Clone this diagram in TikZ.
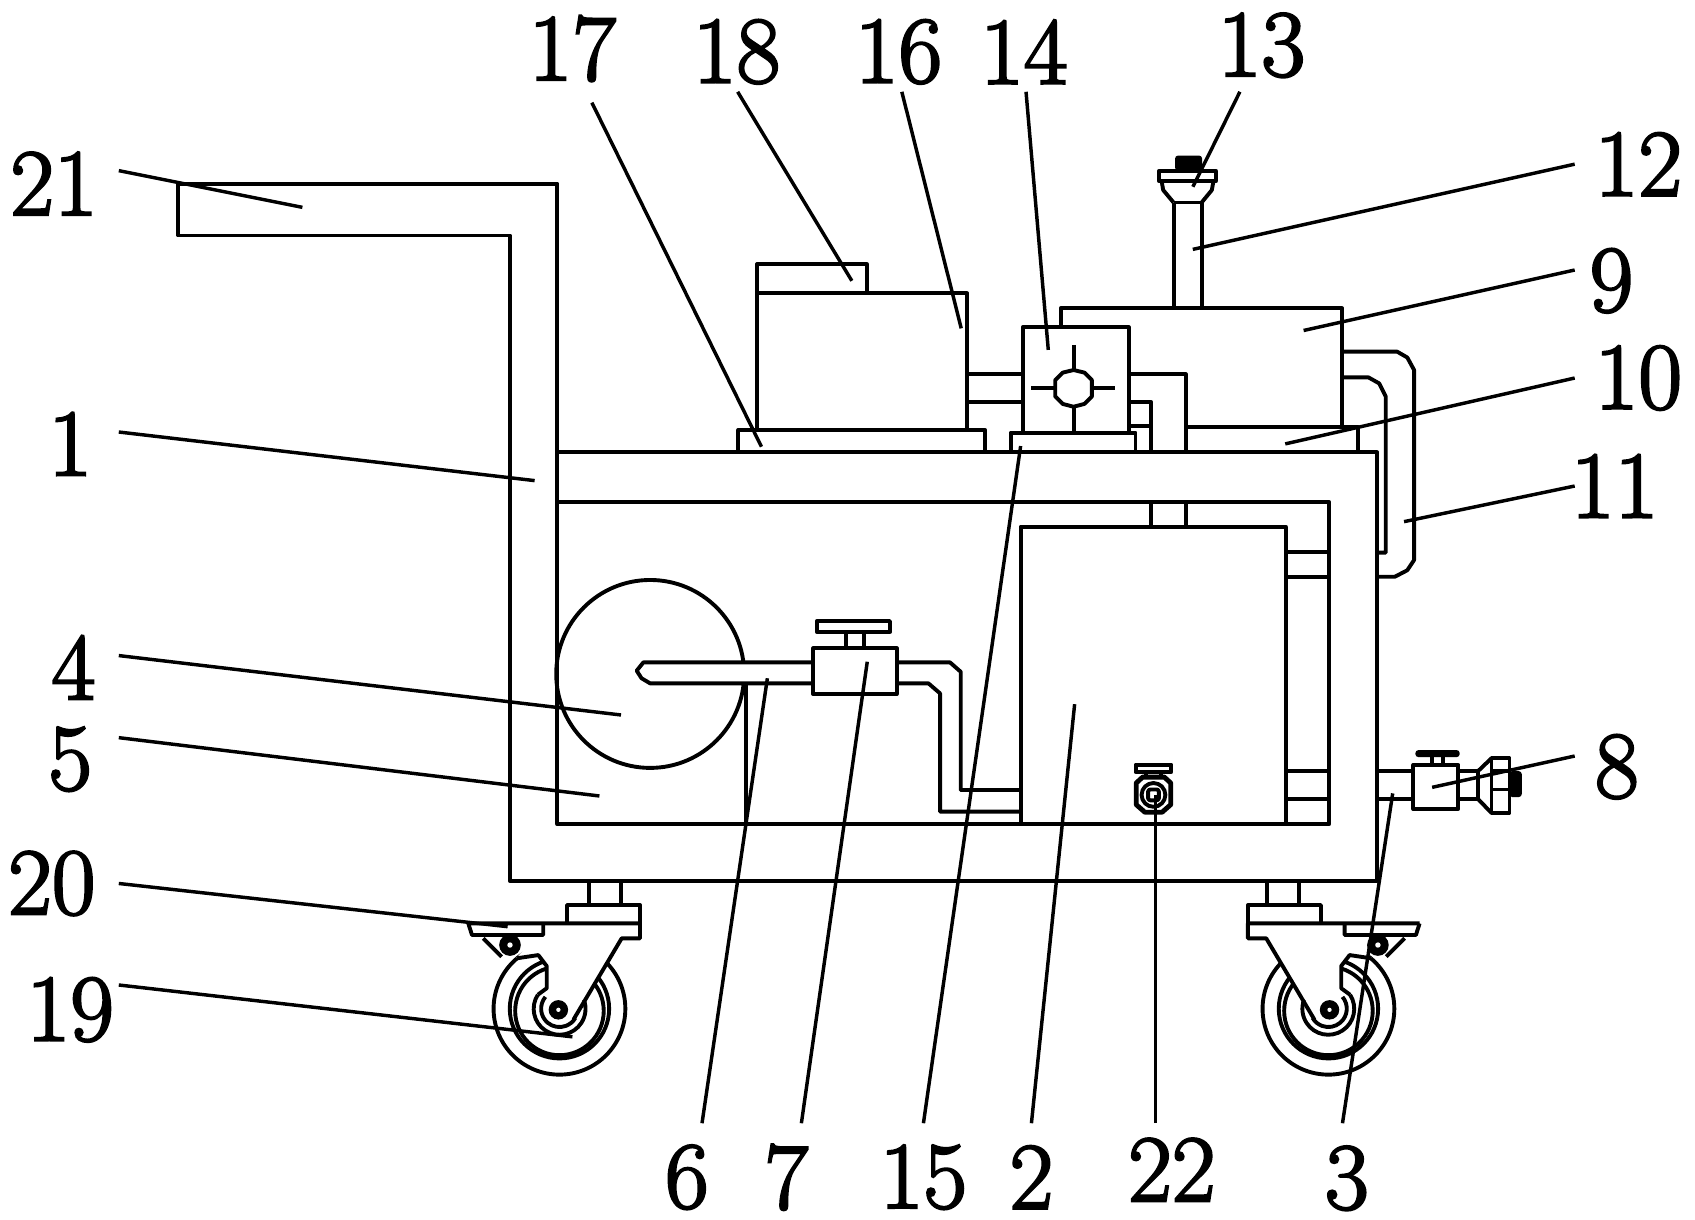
\documentclass[tikz,border=0pt]{standalone}
\usepackage{fontspec}
\newfontfamily\numfont{Latin Modern Roman}[FakeBold=2.5]
\usepackage{tikz}
\tikzstyle{part} = [draw, line width=3.6pt, line join=round]
\tikzstyle{blot} = [draw, fill=black, line width=2pt, rounded corners=2pt]
\tikzstyle{leader} = [draw, line width=3.2pt]
\tikzstyle{partno} = [inner sep=0pt, font=\numfont\fontsize{88}{88}\selectfont]
% one castor, drawn on the left of the cart
\newcommand{\castor}{
\draw [part] (545,815.6) -- (545,838);
\draw [part] (575,815.6) -- (575,838);
\draw [part] (525,855) -- (525,838) -- (592.6,838) -- (592.6,855);
\draw [part, fill=white] (518,934) circle (61);
\draw [part] (518,934) circle (46);
\draw [part] (518,936) circle (41);
\fill [white] (478,887) -- (503,860) -- (592,857) -- (592,869) -- (576,869) -- (531,944) -- (515,957) -- (492,934) -- (506,915) -- (506,894) -- (498,884) -- cycle;
\draw [part] (433.6,855) -- (592.6,855) -- (592.6,868.8) -- (575.6,868.8) -- (531,944);
\draw [part] (433.6,855) -- (437,865.7) -- (503,865.7) -- (503,855);
\draw [part] (447.5,868.8) -- (464.5,885.8);
\draw [part] (478.4,887.3) -- (498.4,884.3) -- (506.2,894.5) -- (506.2,915) -- (498,921);
\draw [part] (498,921) arc (213:-20:24);
\draw [part] (505,923) arc (220:30:17);
\draw [blot] (472.2,875) circle (9);
\fill [white] (472.2,875) circle (2.5);
\draw [blot] (517,935) circle (8);
\fill [white] (517,935) circle (2);
}
\begin{document}
\begin{tikzpicture}[x=1pt, y=-1pt]
\useasboundingbox (0,0) rectangle (1569.4,1128.7);
% frame and handle
\draw [part] (165,170) -- (516,170) -- (516,418.8) -- (1275,418.8) -- (1275,815.6) -- (472,815.6) -- (472,218) -- (165,218) -- cycle;
\draw [part] (516,418.8) -- (516,465) -- (1230.7,465) -- (1230.7,763) -- (516,763) -- (516,465);
% tank, pipes to frame
\draw [part] (945,763) -- (945,487.6) -- (1190.3,487.6) -- (1190.3,763);
\draw [part] (1190.3,511.4) -- (1230.7,511.4);
\draw [part] (1190.3,534) -- (1230.7,534);
\draw [part] (1190.3,714) -- (1230.7,714);
\draw [part] (1190.3,739.8) -- (1230.7,739.8);
\draw [part] (1066,465) -- (1066,487.6);
\draw [part] (1098,465) -- (1098,487.6);
% drum and suction pipe
\draw [part] (602,624) circle (87);
\draw [part] (690.4,632.7) -- (690.4,763);
\draw [part, fill=white] (753,613.3) -- (595.7,613.3) -- (589.5,621) -- (594,628) -- (601.9,632.7) -- (753,632.7);
\draw [part] (753,600.3) rectangle (830.2,642.6);
\draw [part] (756.2,575) rectangle (824,585);
\draw [part] (783.3,585) -- (783.3,600.3);
\draw [part] (800.3,585) -- (800.3,600.3);
\draw [part] (830.2,613.3) -- (879.6,613.3) -- (889.5,622) -- (889.5,731.5) -- (945,731.5);
\draw [part] (830.2,632.7) -- (859.6,632.7) -- (870.4,642) -- (870.4,751.5) -- (945,751.5);
% boxes on the deck
\draw [part] (700.7,271.6) -- (700.7,244.8) -- (802.7,244.8) -- (802.7,271.6);
\draw [part] (700.7,398) rectangle (895.4,271.6);
\draw [part] (683.7,418.8) -- (683.7,398) -- (912,398) -- (912,418.8);
\draw [part] (895.4,346.6) -- (947,346.6);
\draw [part] (895.4,372.5) -- (947,372.5);
\draw [part] (947,303) rectangle (1045,400.6);
\draw [part] (935.7,418.8) -- (935.7,400.6) -- (1051.3,400.6) -- (1051.3,418.8);
\draw [part] (994,342.6) -- (1004,345) -- (1011,352) -- (1011,367) -- (1004,374) -- (994,376.6) -- (984,374) -- (977,367) -- (977,352) -- (984,345) -- cycle;
\draw [part] (994,319.4) -- (994,342.6);
\draw [part] (994,376.6) -- (994,400.6);
\draw [part] (954.8,359.6) -- (977,359.6);
\draw [part] (1011,359.6) -- (1032,359.6);
\draw [part] (1045,346.6) -- (1098,346.6) -- (1098,418.8);
\draw [part] (1045,372.5) -- (1066,372.5) -- (1066,418.8);
\draw [part] (1045,394.4) -- (1066,394.4);
% upper tank, nozzle
\draw [part] (982,303) -- (982,285.5) -- (1242.6,285.5) -- (1242.6,395);
\draw [part] (1098,395) -- (1257,395) -- (1257,418.8);
\draw [part] (1086.6,285.5) -- (1086.6,187.5);
\draw [part] (1112.6,285.5) -- (1112.6,187.5);
\draw [part] (1086.6,187.5) -- (1112.6,187.5);
\draw [part] (1073.5,158) rectangle (1125.5,168);
\draw [part] (1075.6,168) -- (1077,176) -- (1086.6,187.5);
\draw [part] (1123.5,168) -- (1122,176) -- (1112.6,187.5);
\draw [blot] (1089,145) rectangle (1112,157);
% return pipes
\draw [part] (1242.6,325.6) -- (1293.6,325.6) -- (1303,331) -- (1309.3,342.6) -- (1309.3,518.5) -- (1303,528) -- (1291.5,534) -- (1275,534);
\draw [part] (1242.6,349.4) -- (1267,349.4) -- (1277,355) -- (1283,367) -- (1283,511.7) -- (1275,511.7);
% outlet valve
\draw [part] (1275,714) -- (1308.6,714);
\draw [part] (1275,739.8) -- (1308.6,739.8);
\draw [part] (1308.6,708.3) rectangle (1350.3,749);
\draw [blot] (1311.5,695.5) rectangle (1350.5,700);
\draw [part] (1325.6,700) -- (1325.6,708.3);
\draw [part] (1336,700) -- (1336,708.3);
\draw [part] (1350.3,714) -- (1368.5,714);
\draw [part] (1350.3,739.8) -- (1368.5,739.8);
\draw [part] (1368.5,714) -- (1368.5,739.8);
\draw [part] (1368.5,714) -- (1381,702);
\draw [part] (1368.5,739.8) -- (1381,752.8);
\draw [part] (1381,702) rectangle (1397.6,752.8);
\draw [part] (1381,714) -- (1397.6,714);
\draw [part] (1381,731) -- (1397.6,731);
\draw [blot] (1398.5,715) rectangle (1408,737);
% drain
\draw [part] (1051.5,708) rectangle (1084.5,715);
\draw [part] (1061,716) -- (1061,719);
\draw [part] (1075,716) -- (1075,719);
\draw [part, line width=4.5pt] (1058,719.5) -- (1078,719.5) -- (1084,725) -- (1084,745) -- (1076,752) -- (1060,752) -- (1052,745) -- (1052,725) -- cycle;
\draw [part] (1068,736) circle (11);
\draw [part, rounded corners=2pt] (1063,731) rectangle (1073,741);
% castors
\castor
\begin{scope}[xshift=1748pt, xscale=-1]
\castor
\end{scope}
% part numbers
\node [partno] (n21) at (50,170) {21};
\node [partno] (n1) at (65,411) {1};
\node [partno] (n4) at (68,618) {4};
\node [partno] (n5) at (65,703) {5};
\node [partno] (n20) at (48,818) {20};
\node [partno] (n19) at (65,935) {19};
\node [partno] (n17) at (530,45) {17};
\node [partno] (n18) at (682,48) {18};
\node [partno] (n16) at (832,48) {16};
\node [partno] (n14) at (948,48) {14};
\node [partno] (n13) at (1168,42) {13};
\node [partno] (n12) at (1517,152) {12};
\node [partno] (n9) at (1492,260) {9};
\node [partno] (n10) at (1517,350) {10};
\node [partno] (n11) at (1495,450) {11};
\node [partno] (n8) at (1497,710) {8};
\node [partno] (n6) at (636,1090) {6};
\node [partno] (n7) at (728,1090) {7};
\node [partno] (n15) at (855,1090) {15};
\node [partno] (n2) at (955,1090) {2};
\node [partno] (n22) at (1085,1083) {22};
\node [partno] (n3) at (1247,1091) {3};
% leader ends
\coordinate (e21) at (280,192);
\coordinate (e1) at (495,445);
\coordinate (e4) at (575,662);
\coordinate (e5) at (555,737);
\coordinate (e20) at (470,858);
\coordinate (e19) at (530,960);
\coordinate (e17) at (705,413.6);
\coordinate (e18) at (788.7,260);
\coordinate (e16) at (890,304);
\coordinate (e14) at (970.6,324);
\coordinate (e13) at (1104.5,172.9);
\coordinate (e12) at (1104.4,230.9);
\coordinate (e9) at (1207,306);
\coordinate (e10) at (1190,411);
\coordinate (e11) at (1300,483);
\coordinate (e8) at (1326,729);
\coordinate (e6) at (710.5,628);
\coordinate (e7) at (803,612.7);
\coordinate (e15) at (945,413);
\coordinate (e2) at (995,652);
\coordinate (e22) at (1070,736);
\coordinate (e3) at (1289.5,734.6);
% leaders
\path [leader] ([shift={(60,-12)}]n21.center) -- (e21);
\path [leader] ([shift={(45,-11)}]n1.center) -- (e1);
\path [leader] ([shift={(42,-11)}]n4.center) -- (e4);
\path [leader] ([shift={(45,-20)}]n5.center) -- (e5);
\path [leader] ([shift={(62,0)}]n20.center) -- (e20);
\path [leader] ([shift={(45,-23)}]n19.center) -- (e19);
\path [leader] ([shift={(18,50)}]n17.center) -- (e17);
\path [leader] ([shift={(1,37)}]n18.center) -- (e18);
\path [leader] ([shift={(3,37)}]n16.center) -- (e16);
\path [leader] ([shift={(2,37)}]n14.center) -- (e14);
\path [leader] ([shift={(-20,43)}]n13.center) -- (e13);
\path [leader] ([shift={(-59,0)}]n12.center) -- (e12);
\path [leader] ([shift={(-34,-10)}]n9.center) -- (e9);
\path [leader] ([shift={(-59,0)}]n10.center) -- (e10);
\path [leader] ([shift={(-37,0)}]n11.center) -- (e11);
\path [leader] ([shift={(-39,-10)}]n8.center) -- (e8);
\path [leader] ([shift={(14,-50)}]n6.center) -- (e6);
\path [leader] ([shift={(14,-50)}]n7.center) -- (e7);
\path [leader] ([shift={(0,-50)}]n15.center) -- (e15);
\path [leader] ([shift={(0,-50)}]n2.center) -- (e2);
\path [leader] ([shift={(-15,-43)}]n22.center) -- (e22);
\path [leader] ([shift={(-4,-51)}]n3.center) -- (e3);
\end{tikzpicture}
\end{document}
